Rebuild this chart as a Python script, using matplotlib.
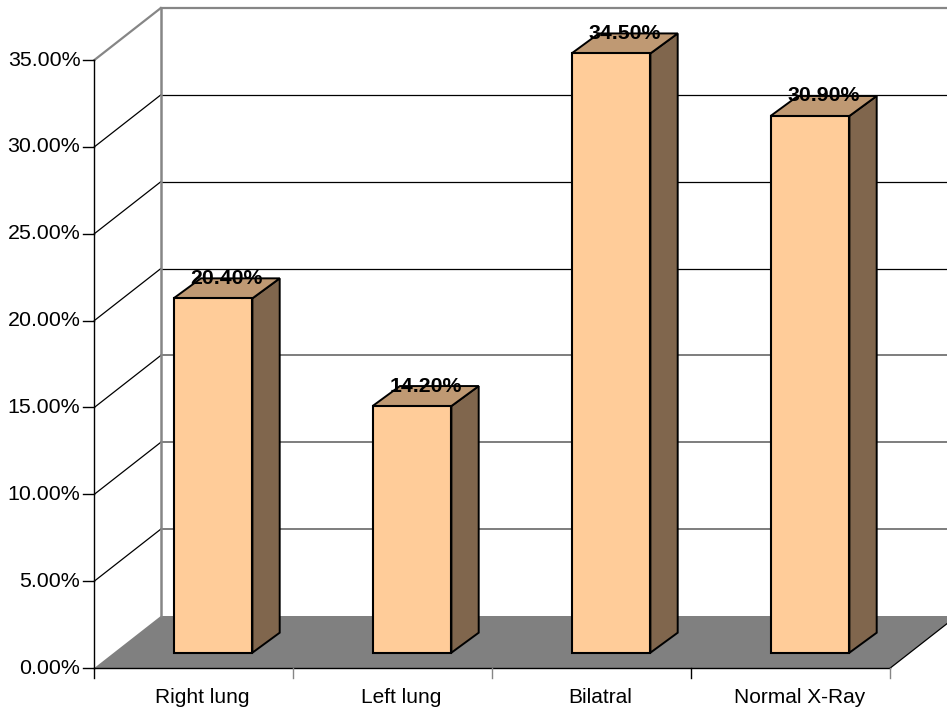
import matplotlib
matplotlib.use("Agg")
import matplotlib.pyplot as plt
from matplotlib.patches import Polygon

plt.rcParams['font.family'] = ['Liberation Sans', 'DejaVu Sans']

categories = ["Right lung", "Left lung", "Bilatral", "Normal X-Ray"]
values = [20.4, 14.2, 34.5, 30.9]
value_labels = ["20.40%", "14.20%", "34.50%", "30.90%"]
y_ticks = [0, 5, 10, 15, 20, 25, 30, 35]
y_tick_labels = ["0.00%", "5.00%", "10.00%", "15.00%", "20.00%", "25.00%", "30.00%", "35.00%"]

W, H = 947, 710
# pixels per category / per percent on the front plane
PX_CAT = 199
PX_PCT = 17.37
X0 = 94.3
Y0 = 668

# depth of the chart and of the bars, in data units
wall_dx, wall_dy = 66.5 / PX_CAT, 52 / PX_PCT
bar_off_dx, bar_off_dy = 19.2 / PX_CAT, 15.3 / PX_PCT
bar_dx, bar_dy = 27.3 / PX_CAT, 20 / PX_PCT
bar_width = 78.8 / PX_CAT

FRONT = "#FFCC99"
TOP = "#BF9973"
SIDE = "#80664D"
FLOOR = "#808080"
GREY = "#868686"

fig = plt.figure(figsize=(W / 100, H / 100), dpi=100)
ax = fig.add_axes([0, 0, 1, 1])
ax.set_xlim(-X0 / PX_CAT, (W - X0) / PX_CAT)
ax.set_ylim(-(H - Y0) / PX_PCT, Y0 / PX_PCT)
ax.axis("off")

n = len(categories)
top = y_ticks[-1]

# floor
ax.add_patch(Polygon([(0, 0), (wall_dx, wall_dy), (n + wall_dx, wall_dy), (n, 0)],
                     facecolor=FLOOR, edgecolor="none", zorder=1))
ax.plot([n, n + wall_dx], [0, wall_dy], color="black", lw=0.9, zorder=2)

# walls and grid
ax.plot([wall_dx, wall_dx], [wall_dy, top + wall_dy], color=GREY, lw=1.8, zorder=2)
for t in y_ticks[1:]:
    if t == top:
        c, lw = GREY, 1.6
    elif t <= 15:
        c, lw = "#5a5a5a", 1.1
    else:
        c, lw = "black", 0.9
    ax.plot([0, wall_dx], [t, t + wall_dy], color=c if t == top else "black", lw=lw if t == top else 0.9,
            zorder=1.5)
    ax.plot([wall_dx, n + wall_dx], [t + wall_dy, t + wall_dy], color=c, lw=lw, zorder=1.5)

# axes
ax.plot([0, 0], [0, top], color="black", lw=1.0, zorder=3)
ax.plot([0, n], [0, 0], color="black", lw=1.0, zorder=3)
for t, lab in zip(y_ticks, y_tick_labels):
    ax.plot([-11 / PX_CAT, 0], [t, t], color="black", lw=1.0, zorder=3)
    ax.text(-14 / PX_CAT, t, lab, ha="right", va="center", fontsize=15.4, color="black")
for i in range(n + 1):
    ax.plot([i, i], [0, -10 / PX_PCT], color="black" if i in (0, 3) else GREY, lw=1.0, zorder=3)
for i, name in enumerate(categories):
    ax.text(i + 0.5 + 8.5 / PX_CAT, -29.5 / PX_PCT, name, ha="center", va="center", fontsize=15,
            color="black")

# bars
xs = [i + 0.5 + bar_off_dx for i in range(n)]
ax.bar(xs, values, width=bar_width, bottom=bar_off_dy, facecolor=FRONT, edgecolor="black",
       linewidth=1.5, zorder=5)
for x, v, lab in zip(xs, values, value_labels):
    left, right = x - bar_width / 2, x + bar_width / 2
    y_top = v + bar_off_dy
    ax.add_patch(Polygon([(right, bar_off_dy), (right + bar_dx, bar_off_dy + bar_dy),
                          (right + bar_dx, y_top + bar_dy), (right, y_top)],
                         facecolor=SIDE, edgecolor="black", linewidth=1.4, zorder=4))
    ax.add_patch(Polygon([(left, y_top), (left + bar_dx, y_top + bar_dy),
                          (right + bar_dx, y_top + bar_dy), (right, y_top)],
                         facecolor=TOP, edgecolor="black", linewidth=1.4, zorder=4))
    ax.text(x + bar_dx / 2, y_top + bar_dy, lab, ha="center", va="center", fontsize=15.3,
            fontweight="bold", color="black", zorder=6)

fig.savefig("out.png", dpi=100)
